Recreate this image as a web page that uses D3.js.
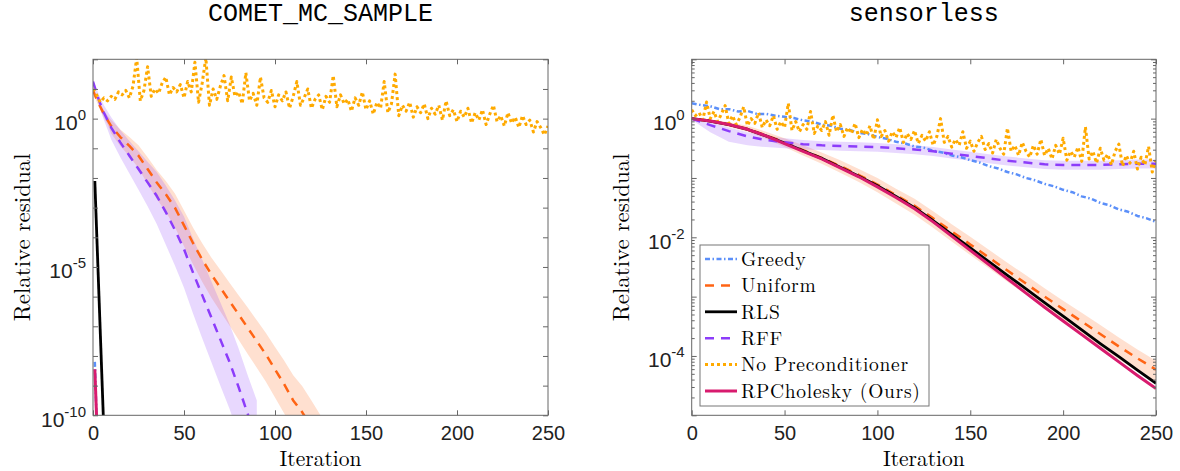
<!DOCTYPE html>
<html>
<head>
<meta charset="utf-8">
<script src="https://cdn.jsdelivr.net/npm/d3@7"></script>
<style>
  body { margin: 0; background: #fff; }
  svg { display: block; }
</style>
</head>
<body>
<div id="chart"></div>
<script>
/// DATA (all residuals stored as log10 values)

const legendNames = ["Greedy", "Uniform", "RLS", "RFF", "No Preconditioner", "RPCholesky (Ours)"]

// --- COMET_MC_SAMPLE (left) ---
const cometGreedyIter = [1, 2]
const cometGreedy = [-8.2, -10.2]

const cometUniformIter = [0, 2, 4, 6, 8, 10, 15, 20, 25, 30, 35, 40, 45, 50, 55, 60, 65, 70, 75, 80, 85, 90, 95, 100, 105, 110, 115, 120, 125]
const cometUniform = [0.96, 0.65, 0.4, 0.15, -0.05, -0.25, -0.62, -0.92, -1.25, -1.7, -2.15, -2.55, -3.0, -3.6, -4.2, -4.75, -5.25, -5.7, -6.15, -6.6, -7.05, -7.5, -7.95, -8.45, -8.95, -9.5, -9.9, -10.4, -10.9]
const cometUniformUp = [0.05, 0.08, 0.1, 0.12, 0.15, 0.2, 0.25, 0.3, 0.35, 0.4, 0.42, 0.45, 0.48, 0.5, 0.52, 0.55, 0.57, 0.6, 0.62, 0.65, 0.68, 0.7, 0.72, 0.75, 0.8, 0.85, 0.88, 0.9, 0.9]
const cometUniformDown = [0.05, 0.08, 0.1, 0.12, 0.15, 0.25, 0.3, 0.35, 0.42, 0.5, 0.55, 0.6, 0.65, 0.7, 0.72, 0.75, 0.78, 0.8, 0.82, 0.85, 0.88, 0.9, 0.92, 0.95, 0.98, 1.0, 1.02, 1.05, 1.05]

const cometRlsIter = [1, 6]
const cometRls = [-2.1, -10.6]

const cometRffIter = [0, 2, 4, 6, 8, 10, 15, 20, 25, 30, 35, 40, 45, 50, 55, 60, 65, 70, 75, 80, 85, 90]
const cometRff = [1.25, 0.85, 0.5, 0.2, -0.05, -0.3, -0.8, -1.25, -1.7, -2.15, -2.6, -3.15, -3.75, -4.4, -5.2, -5.95, -6.7, -7.45, -8.2, -9.05, -9.95, -10.8]
const cometRffUp = [0.05, 0.15, 0.2, 0.25, 0.3, 0.35, 0.42, 0.5, 0.6, 0.7, 0.8, 0.9, 1.0, 1.1, 1.15, 1.2, 1.22, 1.25, 1.28, 1.3, 1.3, 1.3]
const cometRffDown = [0.05, 0.15, 0.2, 0.25, 0.32, 0.4, 0.5, 0.6, 0.7, 0.8, 0.95, 1.1, 1.2, 1.3, 1.38, 1.45, 1.5, 1.55, 1.58, 1.6, 1.6, 1.6]

const cometNoPrecIter = d3.range(0, 251, 2)
const cometNoPrec = [
  1.0, 0.8, 0.55, 0.7, 0.6, 0.75, 0.65, 0.9, 0.8, 0.95,
  0.7, 1.1, 2.05, 0.6, 0.95, 1.75, 0.75, 1.0, 0.85, 1.2,
  1.4, 0.8, 1.05, 0.9, 1.15, 0.7, 1.25, 0.9, 1.9, 0.55,
  1.2, 2.05, 0.45, 1.0, 0.65, 1.1, 1.45, 0.6, 1.4, 0.75,
  0.9, 0.5, 1.55, 0.6, 0.85, 0.45, 1.4, 0.7, 0.55, 0.95,
  0.4, 0.8, 0.6, 0.9, 0.35, 0.75, 1.25, 0.45, 0.7, 1.0,
  0.35, 0.65, 0.8, 0.3, 0.75, 0.55, 1.45, 0.4, 0.8, 0.5,
  0.65, 0.25, 0.7, 0.45, 0.9, 0.3, 0.6, 0.15, 0.55, 0.35,
  1.25, 0.2, 0.5, 1.5, 0.1, 0.45, 0.25, 0.55, 0.05, 0.4,
  0.2, 0.5, 0.0, 0.35, 0.15, 0.45, -0.05, 0.6, 0.1, 0.3,
  -0.1, 0.25, 0.05, 0.35, -0.15, 0.2, -0.05, 0.3, -0.2, 0.15,
  0.45, -0.1, 0.1, -0.25, 0.2, -0.15, 0.05, -0.3, 0.1, -0.2,
  -0.05, -0.45, -0.1, -0.3, -0.55, -0.25
]

const cometRpcIter = [1, 2]
const cometRpc = [-8.45, -10.1]

// --- sensorless (right) ---
const sensGreedyIter = d3.range(0, 251, 5)
const sensGreedy = [
  0.26, 0.23, 0.21, 0.16, 0.16, 0.12, 0.13, 0.08, 0.08, 0.05,
  0.03, 0.01, -0.03, -0.05, -0.1, -0.12, -0.17, -0.19, -0.24, -0.26,
  -0.31, -0.34, -0.39, -0.42, -0.47, -0.49, -0.54, -0.57, -0.62, -0.65,
  -0.7, -0.74, -0.8, -0.84, -0.9, -0.94, -1.0, -1.04, -1.1, -1.14,
  -1.2, -1.24, -1.31, -1.35, -1.42, -1.46, -1.53, -1.57, -1.64, -1.68,
  -1.74
]

const sensIter = d3.range(0, 251, 10)
const sensUniform = [0, -0.04, -0.1, -0.17, -0.28, -0.4, -0.53, -0.66, -0.8, -0.95, -1.11, -1.29, -1.47, -1.68, -1.9, -2.12, -2.34, -2.56, -2.78, -3.0, -3.21, -3.42, -3.63, -3.84, -4.04, -4.23]
const sensUniformUp = [0.02, 0.03, 0.04, 0.05, 0.06, 0.07, 0.08, 0.09, 0.1, 0.1, 0.11, 0.11, 0.12, 0.12, 0.12, 0.13, 0.13, 0.13, 0.14, 0.14, 0.14, 0.15, 0.15, 0.15, 0.15, 0.15]
const sensUniformDown = [0.02, 0.03, 0.04, 0.05, 0.06, 0.08, 0.09, 0.1, 0.11, 0.12, 0.13, 0.14, 0.15, 0.16, 0.17, 0.18, 0.18, 0.19, 0.19, 0.2, 0.2, 0.21, 0.21, 0.22, 0.22, 0.22]
const sensRls = [0, -0.04, -0.1, -0.18, -0.29, -0.41, -0.54, -0.67, -0.82, -0.97, -1.13, -1.31, -1.5, -1.72, -1.95, -2.18, -2.41, -2.64, -2.87, -3.1, -3.33, -3.56, -3.79, -4.01, -4.24, -4.46]
const sensRff = [0, -0.11, -0.21, -0.3, -0.36, -0.4, -0.43, -0.45, -0.46, -0.47, -0.48, -0.5, -0.52, -0.55, -0.59, -0.63, -0.67, -0.71, -0.74, -0.77, -0.78, -0.78, -0.78, -0.77, -0.76, -0.76]
const sensRffUp = [0.02, 0.05, 0.06, 0.07, 0.07, 0.07, 0.07, 0.07, 0.07, 0.07, 0.07, 0.07, 0.07, 0.07, 0.07, 0.07, 0.07, 0.07, 0.07, 0.07, 0.07, 0.07, 0.07, 0.07, 0.07, 0.07]
const sensRffDown = [0.02, 0.12, 0.18, 0.15, 0.12, 0.1, 0.09, 0.08, 0.08, 0.08, 0.08, 0.08, 0.08, 0.08, 0.08, 0.08, 0.08, 0.08, 0.08, 0.08, 0.08, 0.08, 0.08, 0.08, 0.08, 0.08]
const sensRpc = [0, -0.04, -0.1, -0.18, -0.29, -0.42, -0.55, -0.68, -0.83, -0.98, -1.15, -1.33, -1.52, -1.74, -1.98, -2.22, -2.46, -2.7, -2.94, -3.18, -3.41, -3.64, -3.87, -4.1, -4.33, -4.55]

const sensNoPrecIter = d3.range(0, 251, 2)
const sensNoPrec = [
  0.15, 0.05, 0.1, -0.02, 0.28, 0.0, 0.12, -0.05, 0.08, 0.22,
  -0.08, 0.05, -0.1, 0.02, 0.2, -0.12, 0.0, -0.08, 0.1, -0.15,
  -0.02, -0.12, 0.05, -0.18, -0.05, -0.15, 0.26, -0.2, -0.05, -0.22,
  -0.1, -0.18, 0.12, -0.25, -0.12, -0.2, -0.05, -0.28, 0.06, -0.22,
  -0.1, -0.3, -0.15, -0.25, -0.08, -0.32, -0.18, -0.28, -0.12, -0.35,
  -0.02, -0.3, -0.2, -0.38, -0.22, -0.32, -0.15, -0.4, -0.25, -0.35,
  -0.2, -0.42, -0.28, -0.38, -0.22, -0.45, -0.3, 0.0, -0.4, -0.3,
  -0.48, -0.35, -0.45, -0.22, -0.5, -0.38, -0.55, -0.4, -0.3, -0.52,
  -0.42, -0.58, -0.35, -0.5, -0.6, -0.16, -0.55, -0.45, -0.62, -0.4,
  -0.55, -0.65, -0.45, -0.6, -0.35, -0.62, -0.5, -0.68, -0.45, -0.6,
  -0.33, -0.7, -0.55, -0.65, -0.48, -0.72, -0.14, -0.68, -0.55, -0.75,
  -0.5, -0.7, -0.6, -0.78, -0.55, -0.43, -0.8, -0.62, -0.75, -0.55,
  -0.85, -0.65, -0.78, -0.47, -0.9, -0.7
]

const xTicks = [0, 50, 100, 150, 200, 250]

/// STYLES

const styles = {
  Greedy: { color: "#5b8ff9", width: 2.5, dash: "5,2.5,1.5,2.5" },
  Uniform: { color: "#ff6414", width: 2.5, dash: "9,7" },
  RLS: { color: "#000000", width: 2.8, dash: null },
  RFF: { color: "#8c3cfa", width: 2.5, dash: "9,7" },
  "No Preconditioner": { color: "#ffaa00", width: 3, dash: "3,3" },
  "RPCholesky (Ours)": { color: "#d81b6e", width: 3, dash: null },
}

const width = 1180
const height = 471
const plotTop = 59.3
const plotBottom = 415.3
const labelFont = "'Liberation Sans', Arial, Helvetica, sans-serif"
const serifFont = "'Latin Modern Roman', 'Liberation Serif', 'Times New Roman', serif"

const svg = d3
  .select("#chart")
  .append("svg")
  .attr("width", width)
  .attr("height", height)
  .attr("viewBox", [0, 0, width, height])

const toRows = (iters, vals, up, down) =>
  iters.map((it, i) => ({
    it,
    v: vals[i],
    hi: up ? vals[i] + up[i] : null,
    lo: down ? vals[i] - down[i] : null,
  }))

function drawPanel(cfg) {
  const xScale = d3.scaleLinear().domain([0, 250]).range([cfg.left, cfg.right])
  const yScale = d3.scaleLog().domain(cfg.yDomain).range([plotBottom, plotTop])
  const pw = cfg.right - cfg.left
  const ph = plotBottom - plotTop

  svg
    .append("clipPath")
    .attr("id", "clip-" + cfg.id)
    .append("rect")
    .attr("x", cfg.left)
    .attr("y", plotTop)
    .attr("width", pw)
    .attr("height", ph)

  // title
  svg
    .append("text")
    .attr("x", (cfg.left + cfg.right) / 2)
    .attr("y", 20.5)
    .attr("text-anchor", "middle")
    .style("font-family", "'Liberation Mono', 'DejaVu Sans Mono', monospace")
    .style("font-size", "25px")
    .style("fill", "#000")
    .text(cfg.title)

  const plot = svg.append("g").attr("clip-path", `url(#clip-${cfg.id})`)

  const areaGenerator = d3
    .area()
    .x((d) => xScale(d.it))
    .y0((d) => yScale(Math.pow(10, d.lo)))
    .y1((d) => yScale(Math.pow(10, d.hi)))

  const lineGenerator = d3
    .line()
    .x((d) => xScale(d.it))
    .y((d) => yScale(Math.pow(10, d.v)))

  // bands
  cfg.series
    .filter((s) => s.up)
    .forEach((s) => {
      plot
        .append("path")
        .datum(toRows(s.iters, s.vals, s.up, s.down))
        .attr("d", areaGenerator)
        .attr("fill", styles[s.name].color)
        .attr("fill-opacity", 0.2)
        .attr("stroke", "none")
    })

  // lines
  cfg.series.forEach((s) => {
    const st = styles[s.name]
    plot
      .append("path")
      .datum(toRows(s.iters, s.vals))
      .attr("d", lineGenerator)
      .attr("fill", "none")
      .attr("stroke", st.color)
      .attr("stroke-width", st.width)
      .attr("stroke-dasharray", st.dash)
      .attr("stroke-linejoin", "round")
  })

  // axes (ticks inward on all four sides)
  const decades = d3.range(Math.log10(cfg.yDomain[0]), Math.log10(cfg.yDomain[1]) + 1).map((e) => Math.pow(10, e))
  const axisColor = "#666"

  const xAxis = svg
    .append("g")
    .attr("transform", `translate(0,${plotBottom})`)
    .call(d3.axisBottom(xScale).tickValues(xTicks).tickSizeInner(-5).tickSizeOuter(0).tickPadding(11))
  xAxis.selectAll("text").style("font-family", labelFont).style("font-size", "20px").style("fill", "#222")

  svg
    .append("g")
    .attr("transform", `translate(0,${plotTop})`)
    .call(d3.axisTop(xScale).tickValues(xTicks).tickSizeInner(-5).tickSizeOuter(0).tickFormat(""))

  const yAxis = svg
    .append("g")
    .attr("transform", `translate(${cfg.left},0)`)
    .call(d3.axisLeft(yScale).tickValues(decades).tickSizeInner(-5).tickSizeOuter(0).tickPadding(7))

  yAxis.selectAll("text").each(function (d) {
    const e = Math.round(Math.log10(d))
    const t = d3.select(this).text(null).attr("dy", null).attr("y", 11)
    if (!cfg.labelled.includes(e)) return
    t.style("font-family", labelFont).style("fill", "#222")
    t.append("tspan").style("font-size", "21px").text("10")
    t.append("tspan").style("font-size", "15px").attr("dy", -10).text(String(e))
  })

  svg
    .append("g")
    .attr("transform", `translate(${cfg.right},0)`)
    .call(d3.axisRight(yScale).tickValues(decades).tickSizeInner(-5).tickSizeOuter(0).tickFormat(""))

  if (cfg.minor) {
    const minors = []
    decades.slice(0, -1).forEach((d) => d3.range(2, 10).forEach((k) => minors.push(d * k)))
    svg
      .append("g")
      .attr("transform", `translate(${cfg.left},0)`)
      .call(d3.axisLeft(yScale).tickValues(minors).tickSizeInner(-3).tickSizeOuter(0).tickFormat(""))
    svg
      .append("g")
      .attr("transform", `translate(${cfg.right},0)`)
      .call(d3.axisRight(yScale).tickValues(minors).tickSizeInner(-3).tickSizeOuter(0).tickFormat(""))
  }

  svg.selectAll(".domain").remove()
  svg.selectAll(".tick line").attr("stroke", axisColor)

  svg
    .append("rect")
    .attr("x", cfg.left)
    .attr("y", plotTop)
    .attr("width", pw)
    .attr("height", ph)
    .attr("fill", "none")
    .attr("stroke", axisColor)
    .attr("stroke-width", 1)

  // axis labels
  svg
    .append("text")
    .attr("x", (cfg.left + cfg.right) / 2)
    .attr("y", 466)
    .attr("text-anchor", "middle")
    .style("font-family", serifFont)
    .style("font-size", "21.5px")
    .text("Iteration")

  svg
    .append("text")
    .attr("transform", `translate(${cfg.left - 63},${(plotTop + plotBottom) / 2}) rotate(-90)`)
    .attr("text-anchor", "middle")
    .style("font-family", serifFont)
    .style("font-size", "23px")
    .text("Relative residual")

  return { xScale, yScale }
}

drawPanel({
  id: "comet",
  title: "COMET_MC_SAMPLE",
  left: 93,
  right: 548,
  yDomain: [1e-10, 1e2],
  labelled: [0, -5, -10],
  minor: false,
  series: [
    { name: "Greedy", iters: cometGreedyIter, vals: cometGreedy },
    { name: "Uniform", iters: cometUniformIter, vals: cometUniform, up: cometUniformUp, down: cometUniformDown },
    { name: "RLS", iters: cometRlsIter, vals: cometRls },
    { name: "RFF", iters: cometRffIter, vals: cometRff, up: cometRffUp, down: cometRffDown },
    { name: "No Preconditioner", iters: cometNoPrecIter, vals: cometNoPrec },
    { name: "RPCholesky (Ours)", iters: cometRpcIter, vals: cometRpc },
  ],
})

drawPanel({
  id: "sens",
  title: "sensorless",
  left: 691.7,
  right: 1156,
  yDomain: [1e-5, 1e1],
  labelled: [0, -2, -4],
  minor: true,
  series: [
    { name: "Greedy", iters: sensGreedyIter, vals: sensGreedy },
    { name: "Uniform", iters: sensIter, vals: sensUniform, up: sensUniformUp, down: sensUniformDown },
    { name: "RLS", iters: sensIter, vals: sensRls },
    { name: "RFF", iters: sensIter, vals: sensRff, up: sensRffUp, down: sensRffDown },
    { name: "No Preconditioner", iters: sensNoPrecIter, vals: sensNoPrec },
    { name: "RPCholesky (Ours)", iters: sensIter, vals: sensRpc },
  ],
})

/// LEGEND

const legend = svg.append("g").attr("transform", "translate(700,245)")

legend
  .append("rect")
  .attr("width", 229)
  .attr("height", 161)
  .attr("fill", "#fff")
  .attr("stroke", "#777")
  .attr("stroke-width", 1)

const legendRows = legend
  .selectAll("g.row")
  .data(legendNames)
  .join("g")
  .attr("class", "row")
  .attr("transform", (d, i) => `translate(0,${14 + i * 26.4})`)

legendRows
  .append("line")
  .attr("x1", 5)
  .attr("x2", 37)
  .attr("stroke", (d) => styles[d].color)
  .attr("stroke-width", (d) => styles[d].width)
  .attr("stroke-dasharray", (d) => styles[d].dash)

legendRows
  .append("text")
  .attr("x", 41)
  .attr("dy", "0.35em")
  .style("font-family", serifFont)
  .style("font-size", "19.5px")
  .style("letter-spacing", "0.7px")
  .text((d) => d)
</script>
</body>
</html>
